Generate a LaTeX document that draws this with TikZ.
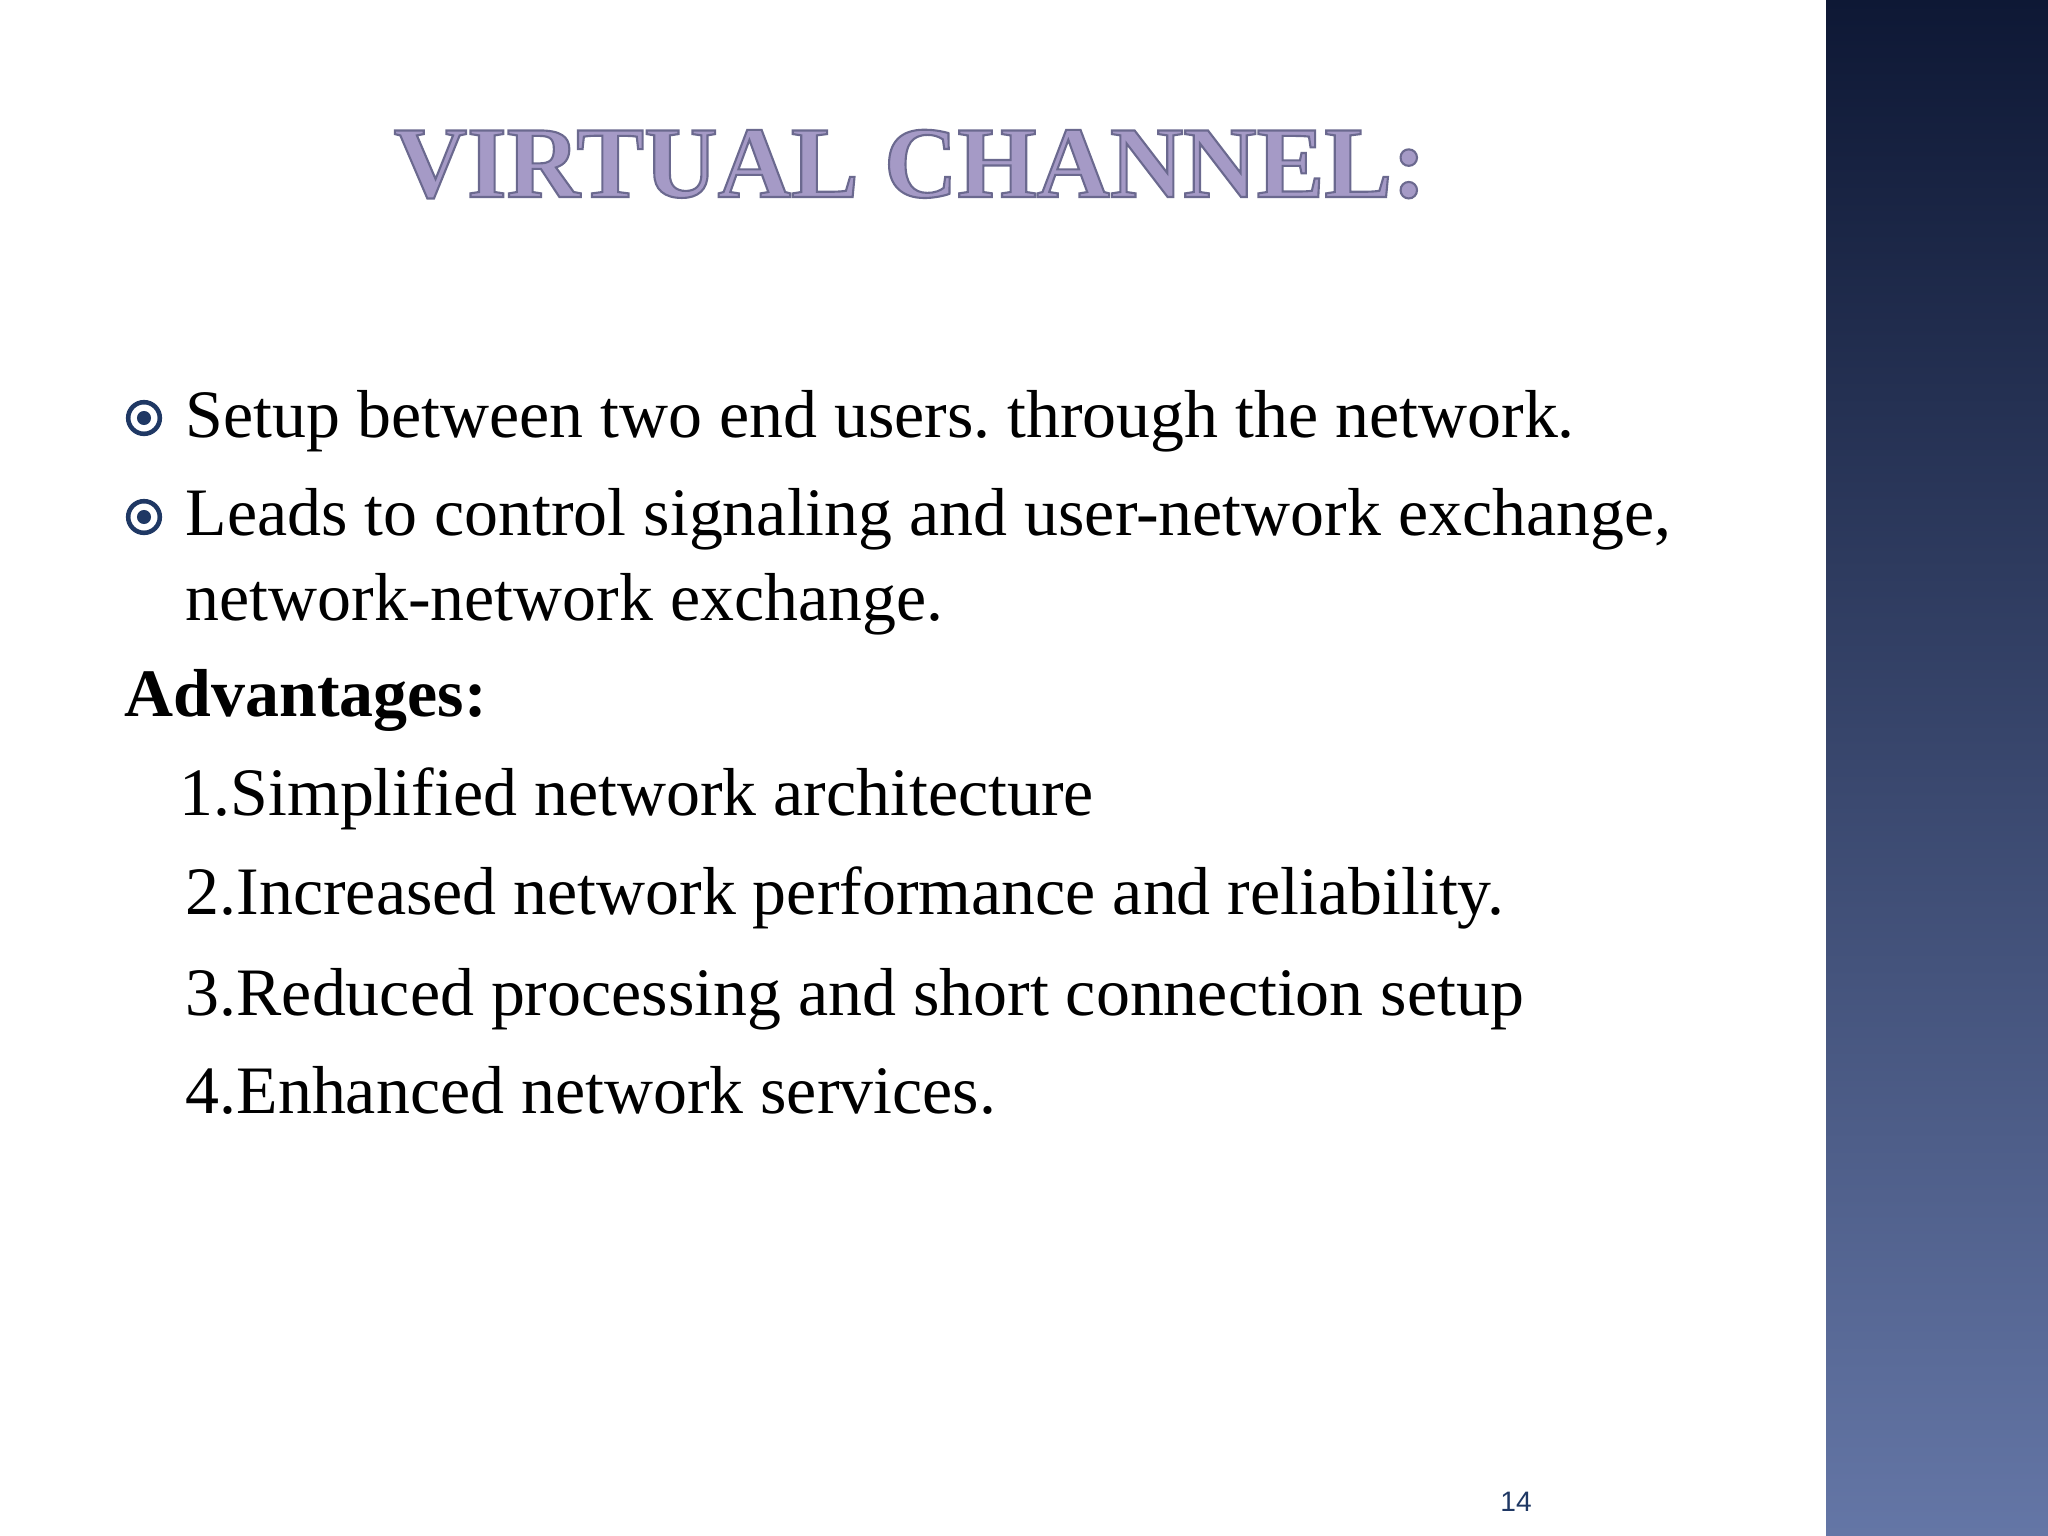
\documentclass[tikz,border=0pt]{standalone}
\usepackage{fontspec}
\setmainfont{Liberation Serif}
\newfontfamily\numfont{Liberation Sans}
\frenchspacing
\definecolor{navy}{HTML}{1F3864}
\definecolor{ttlfill}{HTML}{A59AC6}
\definecolor{pantop}{HTML}{0E1835}
\definecolor{panbot}{HTML}{6476A6}
\begin{document}
\begin{tikzpicture}[x=0.01cm,y=-0.01cm,
  body/.style={anchor=base west,inner sep=0,font=\fontsize{19.3pt}{23pt}\selectfont},
  bul/.style={circle,draw=navy,line width=1.3pt,minimum size=9pt,inner sep=0},
  dot/.style={circle,fill=navy,minimum size=4pt,inner sep=0}]
\useasboundingbox (0,0) rectangle (2048,1536);
\fill[white] (0,0) rectangle (2048,1536);
\shade[top color=pantop,bottom color=panbot] (1826,0) rectangle (2048,1536);
\node[anchor=base,inner sep=0,font=\bfseries\fontsize{28.9pt}{34pt}\selectfont,text=ttlfill] (title) at (910,197)
  {\special{pdf:literal 2 Tr 0.6 w 0.42 0.41 0.56 RG}VIRTUAL CHANNEL:\special{pdf:literal 0 Tr}};
\node[bul] (b1) at (144,418) {}; \node[dot] at (b1) {};
\node[bul] (b2) at (144,517) {}; \node[dot] at (b2) {};
\node[body] (l1) at (185,437) {Setup between two end users. through the network.};
\node[body] (l2) at (185,535) {Leads to control signaling and user-network exchange,};
\node[body] (l3) at (185,620) {network-network exchange.};
\node[body,font=\bfseries\fontsize{19.3pt}{23pt}\selectfont] (adv) at (124,716) {Advantages:};
\node[body] (a1) at (179,815) {1.Simplified network architecture};
\node[body] (a2) at (185,914) {2.Increased network performance and reliability.};
\node[body] (a3) at (185,1015) {3.Reduced processing and short connection setup};
\node[body] (a4) at (185,1113) {4.Enhanced network services.};
\node[anchor=center,inner sep=0,text=navy,font=\numfont\fontsize{8pt}{10pt}\selectfont] (pg) at (1516,1502) {14};
\end{tikzpicture}
\end{document}
